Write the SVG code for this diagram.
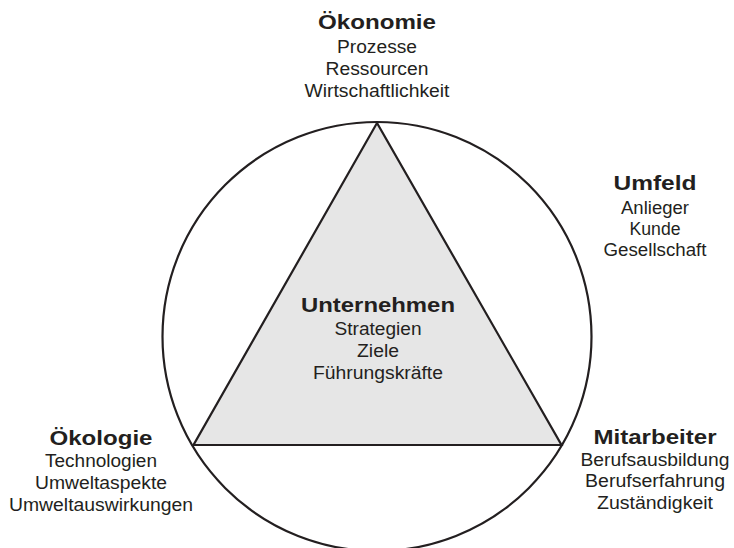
<svg xmlns="http://www.w3.org/2000/svg" width="734" height="548" viewBox="0 0 734 548">
<style>
.t{font-family:"Liberation Sans",Arial,sans-serif;font-weight:bold;font-size:20px;fill:#231f20;text-anchor:middle}
.s{font-family:"Liberation Sans",Arial,sans-serif;font-size:17.5px;fill:#231f20;text-anchor:middle}
.ln{stroke:#231f20;stroke-width:2.2;}
</style>
<rect width="734" height="548" fill="#ffffff"/>
<g id="connectors">
<circle class="ln" cx="377" cy="336.5" r="214.5" fill="none"/>
</g>
<g id="unternehmen">
<polygon class="ln" points="377,123 193.5,445 561.5,445" fill="#e6e6e6" stroke-linejoin="miter"/>
<text class="t" x="378" y="312" textLength="154" lengthAdjust="spacingAndGlyphs">Unternehmen</text>
<text class="s" x="378" y="334.5" textLength="87" lengthAdjust="spacingAndGlyphs">Strategien</text>
<text class="s" x="378" y="356.5" textLength="42" lengthAdjust="spacingAndGlyphs">Ziele</text>
<text class="s" x="378" y="379" textLength="130" lengthAdjust="spacingAndGlyphs">Führungskräfte</text>
</g>
<g id="oekonomie">
<text class="t" x="377" y="28.5" textLength="118" lengthAdjust="spacingAndGlyphs">Ökonomie</text>
<text class="s" x="377" y="53" textLength="80" lengthAdjust="spacingAndGlyphs">Prozesse</text>
<text class="s" x="377" y="75" textLength="103" lengthAdjust="spacingAndGlyphs">Ressourcen</text>
<text class="s" x="377" y="96.5" textLength="145" lengthAdjust="spacingAndGlyphs">Wirtschaftlichkeit</text>
</g>
<g id="umfeld">
<text class="t" x="655" y="189.5" textLength="83" lengthAdjust="spacingAndGlyphs">Umfeld</text>
<text class="s" x="655" y="213.5" textLength="68" lengthAdjust="spacingAndGlyphs">Anlieger</text>
<text class="s" x="655" y="234.5" textLength="51" lengthAdjust="spacingAndGlyphs">Kunde</text>
<text class="s" x="655" y="256" textLength="103" lengthAdjust="spacingAndGlyphs">Gesellschaft</text>
</g>
<g id="oekologie">
<text class="t" x="101" y="444.5" textLength="103" lengthAdjust="spacingAndGlyphs">Ökologie</text>
<text class="s" x="101" y="467" textLength="112" lengthAdjust="spacingAndGlyphs">Technologien</text>
<text class="s" x="101" y="489" textLength="132" lengthAdjust="spacingAndGlyphs">Umweltaspekte</text>
<text class="s" x="101" y="510.5" textLength="184" lengthAdjust="spacingAndGlyphs">Umweltauswirkungen</text>
</g>
<g id="mitarbeiter">
<text class="t" x="655" y="443.5" textLength="123" lengthAdjust="spacingAndGlyphs">Mitarbeiter</text>
<text class="s" x="655" y="465.5" textLength="149" lengthAdjust="spacingAndGlyphs">Berufsausbildung</text>
<text class="s" x="655" y="487" textLength="140" lengthAdjust="spacingAndGlyphs">Berufserfahrung</text>
<text class="s" x="655" y="509" textLength="116" lengthAdjust="spacingAndGlyphs">Zuständigkeit</text>
</g>
</svg>
